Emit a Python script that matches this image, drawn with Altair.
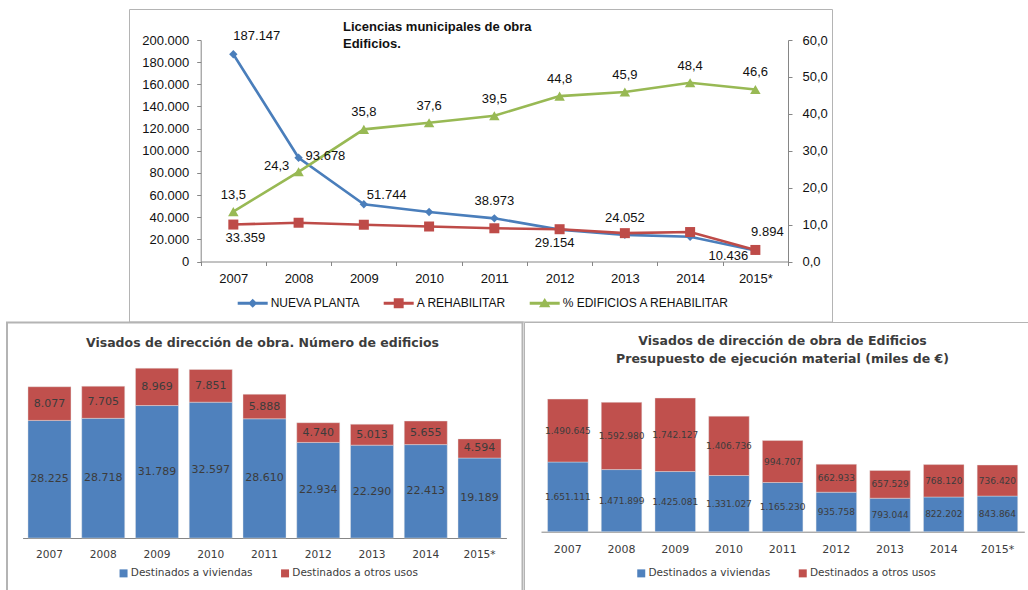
import altair as alt
import pandas as pd

# ---------------- data ----------------
years = ["2007", "2008", "2009", "2010", "2011", "2012", "2013", "2014", "2015*"]

# Licencias municipales de obra. Edificios.
series_top = ["NUEVA PLANTA", "A REHABILITAR", "% EDIFICIOS A REHABILITAR"]
nueva_planta = [187147, 93678, 51744, 44700, 38973, 28800, 24052, 22400, 9894]
a_rehabilitar = [33359, 35000, 33200, 31600, 30000, 29154, 25600, 26600, 10436]
pct_rehab = [13.5, 24.3, 35.8, 37.6, 39.5, 44.8, 45.9, 48.4, 46.6]
nueva_labels = ["187.147", "93.678", "51.744", "", "38.973", "", "24.052", "", "9.894"]
rehab_labels = ["33.359", "", "", "", "", "29.154", "", "", "10.436"]
pct_labels = ["13,5", "24,3", "35,8", "37,6", "39,5", "44,8", "45,9", "48,4", "46,6"]

# Visados de dirección de obra. Número de edificios
bar_series = ["Destinados a viviendas", "Destinados a otros usos"]
viv_num = [28225, 28718, 31789, 32597, 28610, 22934, 22290, 22413, 19189]
otros_num = [8077, 7705, 8969, 7851, 5888, 4740, 5013, 5655, 4594]

# Visados ... Presupuesto de ejecución material (miles de €)
viv_pem = [1651111, 1471899, 1425081, 1331027, 1165230, 935758, 793044, 822202, 843864]
otros_pem = [1490645, 1592980, 1742127, 1406736, 994707, 662933, 657529, 768120, 736420]

# ---------------- style ----------------
W, H = 1028, 590
FONT_TOP = "Liberation Sans"
FONT_BOT = "DejaVu Sans"
BLUE_L, RED_L, GREEN_L = "#4A7EBB", "#BE4B48", "#98B954"
BAR_BLUE, BAR_RED = "#4F81BD", "#C0504D"
AX_C = "#868686"
FRAME_C = "#b4b4b4"
TXT_BOT = "#3c3c3c"

TOP_XR = [200.7, 788.0]
TOP_YR = [261.5, 40.0]

# label placement (dx, dy, align) for the top chart
LABEL_POS = {
    ("NUEVA PLANTA", "2007"): (0, -18, "left"),
    ("NUEVA PLANTA", "2008"): (7, -2, "left"),
    ("NUEVA PLANTA", "2009"): (3, -9, "left"),
    ("NUEVA PLANTA", "2011"): (0, -17, "center"),
    ("NUEVA PLANTA", "2013"): (0, -17, "center"),
    ("NUEVA PLANTA", "2015*"): (12, -19, "center"),
    ("A REHABILITAR", "2007"): (12, 13, "center"),
    ("A REHABILITAR", "2012"): (-5, 14, "center"),
    ("A REHABILITAR", "2015*"): (-27, 6, "center"),
    ("% EDIFICIOS A REHABILITAR", "2008"): (-22, -6, "center"),
}
DEFAULT_POS = (0, -17, "center")

top_df = pd.DataFrame({
    "year": years * 3,
    "serie": [s for s in series_top for _ in years],
    "value": nueva_planta + a_rehabilitar + pct_rehab,
    "label": nueva_labels + rehab_labels + pct_labels,
})

dummy = pd.DataFrame({"d": [0]})


def x_top(axis=None):
    return alt.X("year:N", scale=alt.Scale(domain=years, range=TOP_XR,
                                           paddingInner=0, paddingOuter=0), axis=axis)


def y_top(idx, axis=None):
    dom = [0, 200000] if idx < 2 else [0, 60]
    return alt.Y("value:Q", scale=alt.Scale(domain=dom, range=TOP_YR, nice=False, zero=True), axis=axis)


x_axis_top = alt.Axis(orient="bottom", offset=TOP_YR[0] - H, tickBand="extent", title=None,
                      labelAngle=0, labelFont=FONT_TOP, labelFontSize=13, labelColor="#111",
                      domainColor=AX_C, tickColor=AX_C, tickSize=4, labelPadding=7, grid=False)
yl_axis = alt.Axis(orient="left", offset=-TOP_XR[0], title=None, grid=False,
                   values=list(range(0, 200001, 20000)),
                   labelExpr="replace(format(datum.value, ',d'), ',', '.')",
                   labelFont=FONT_TOP, labelFontSize=13, labelColor="#111",
                   domainColor=AX_C, tickColor=AX_C, tickSize=4, labelPadding=8)
yr_axis = alt.Axis(orient="right", offset=TOP_XR[1] - W, title=None, grid=False,
                   values=list(range(0, 61, 10)),
                   labelExpr="replace(format(datum.value, '.1f'), '.', ',')",
                   labelFont=FONT_TOP, labelFontSize=13, labelColor="#111",
                   domainColor=AX_C, tickColor=AX_C, tickSize=4, labelPadding=10)

layers = []

# frames
for (x0, x1, y0, y1, sw) in [(129.5, 832.5, 9.5, 322.0, 1), (7.0, 522.5, 322.5, 600, 2),
                             (524.5, 1030, 322.5, 600, 1)]:
    layers.append(alt.Chart(dummy).mark_rect(fillOpacity=0, stroke=FRAME_C, strokeWidth=sw).encode(
        x=alt.value(x0), x2=alt.value(x1), y=alt.value(y0), y2=alt.value(y1)))

# top chart series
shapes = ["diamond", "square", "triangle-up"]
sizes = [70, 100, 110]
colors = [BLUE_L, RED_L, GREEN_L]
for i, s in enumerate(series_top):
    base = alt.Chart(top_df).transform_filter(alt.datum.serie == s)
    line_x = x_top(x_axis_top if i == 0 else None)
    line_y = y_top(i, yl_axis if i == 0 else (yr_axis if i == 2 else None))
    layers.append(base.mark_line(color=colors[i], strokeWidth=2.6).encode(x=line_x, y=line_y))
    layers.append(base.mark_point(filled=True, opacity=1, shape=shapes[i], size=sizes[i],
                                  color=colors[i]).encode(x=x_top(), y=y_top(i)))

# top chart labels
lab_list = [nueva_labels, rehab_labels, pct_labels]
for i, s in enumerate(series_top):
    for j, yv in enumerate(years):
        if not lab_list[i][j]:
            continue
        dx, dy, al = LABEL_POS.get((s, yv), DEFAULT_POS)
        layers.append(
            alt.Chart(top_df)
            .transform_filter((alt.datum.serie == s) & (alt.datum.year == yv))
            .mark_text(align=al, baseline="middle", dx=dx, dy=dy, font=FONT_TOP,
                       fontSize=13, color="#111")
            .encode(x=x_top(), y=y_top(i), text="label:N"))

# top legend (symbols: line with marker)
legend_paths = [
    "M-1,-0.1H1V0.1H-1Z M0,-0.3L0.3,0L0,0.3L-0.3,0Z",
    "M-1,-0.1H1V0.1H-1Z M-0.33,-0.33H0.33V0.33H-0.33Z",
    "M-1,-0.1H1V0.1H-1Z M0,-0.36L0.38,0.27L-0.38,0.27Z",
]
leg_top = alt.Legend(orient="none", legendX=237.7, legendY=288.3, direction="horizontal",
                     title=None, symbolSize=900, symbolStrokeWidth=0, symbolOpacity=1,
                     labelFont=FONT_TOP, labelFontSize=12, labelColor="#111", labelLimit=400,
                     labelOffset=3, columnPadding=23, padding=0)
layers.append(
    alt.Chart(pd.DataFrame({"serie": series_top})).transform_filter("false")
    .mark_point(filled=True, opacity=1)
    .encode(color=alt.Color("serie:N", scale=alt.Scale(domain=series_top, range=colors), legend=leg_top),
            shape=alt.Shape("serie:N", scale=alt.Scale(domain=series_top, range=legend_paths), legend=leg_top)))

# top title
for txt, yy in [("Licencias municipales de obra", 27), ("Edificios.", 44)]:
    layers.append(alt.Chart(dummy).mark_text(align="left", baseline="middle", font=FONT_TOP,
                                             fontSize=13, fontWeight="bold", color="#111").encode(
        x=alt.value(343), y=alt.value(yy), text=alt.value(txt)))


# ---------------- bottom bar panels ----------------
def bar_panel(viv, otros, x_range, pad, y_max, y_range, lab_size, xlab_size, xlab_pad, leg_x, leg_y):
    df = pd.DataFrame({
        "year": years * 2,
        "serie": [bar_series[0]] * len(years) + [bar_series[1]] * len(years),
        "order": [0] * len(years) + [1] * len(years),
        "value": viv + otros,
        "label": [f"{v:,}".replace(",", ".") for v in viv + otros],
    })
    base = (alt.Chart(df)
            .transform_stack(stack="value", groupby=["year"], as_=["v0", "v1"],
                             sort=[alt.SortField("order", order="ascending")])
            .transform_calculate(mid="(datum.v0 + datum.v1) / 2"))

    def xs(axis=None):
        return alt.X("year:N", scale=alt.Scale(domain=years, range=x_range, paddingInner=pad,
                                               paddingOuter=pad / 2), axis=axis)

    ysc = alt.Scale(domain=[0, y_max], range=y_range, nice=False)
    xaxis = alt.Axis(orient="bottom", offset=y_range[0] - H, title=None, labelAngle=0, ticks=False,
                     tickSize=0, labelPadding=xlab_pad, labelFont=FONT_BOT, labelFontSize=xlab_size,
                     labelColor=TXT_BOT, domainColor=AX_C, grid=False)
    leg = alt.Legend(orient="none", legendX=leg_x, legendY=leg_y, direction="horizontal", title=None,
                     symbolType="square", symbolSize=64, symbolStrokeWidth=0, labelFont=FONT_BOT,
                     labelFontSize=10.5, labelColor=TXT_BOT, labelOffset=2, columnPadding=26.5,
                     padding=0, labelLimit=400)
    bars = base.mark_bar(stroke="#e8e8e8", strokeWidth=0.6, strokeOpacity=0.7).encode(
        x=xs(xaxis), y=alt.Y("v0:Q", scale=ysc, axis=None), y2="v1:Q",
        color=alt.Color("serie:N", scale=alt.Scale(domain=bar_series, range=[BAR_BLUE, BAR_RED]), legend=leg))
    text = base.mark_text(baseline="middle", align="center", font=FONT_BOT, fontSize=lab_size,
                          color=TXT_BOT).encode(
        x=xs(), y=alt.Y("mid:Q", scale=ysc, axis=None), text="label:N")
    return [bars, text]


layers += bar_panel(viv_num, otros_num, [22.6, 506.4], 0.2, 45000, [538.0, 350.5], 11, 10.6, 11.4,
                    118.3, 568.0)
layers += bar_panel(viv_pem, otros_pem, [541.0, 1024.3], 0.245, 3500000, [531.7, 384.0], 9, 11, 11.9,
                    636.0, 568.0)

# bottom titles
for txt, xx, yy in [("Visados de dirección de obra. Número de edificios", 262.5, 342.7),
                    ("Visados de dirección de obra de Edificios", 782.5, 341.0),
                    ("Presupuesto de ejecución material (miles de €)", 782.5, 359.3)]:
    layers.append(alt.Chart(dummy).mark_text(align="center", baseline="middle", font=FONT_BOT,
                                             fontSize=12.5, fontWeight="bold", color=TXT_BOT).encode(
        x=alt.value(xx), y=alt.value(yy), text=alt.value(txt)))

chart = (alt.layer(*layers)
         .resolve_scale(x="independent", y="independent", color="independent", shape="independent")
         .properties(width=W, height=H, padding=0, autosize=alt.AutoSizeParams(type="none"))
         .configure_view(strokeWidth=0))

chart.save("out.html", embed_options={"renderer": "svg", "actions": False})
